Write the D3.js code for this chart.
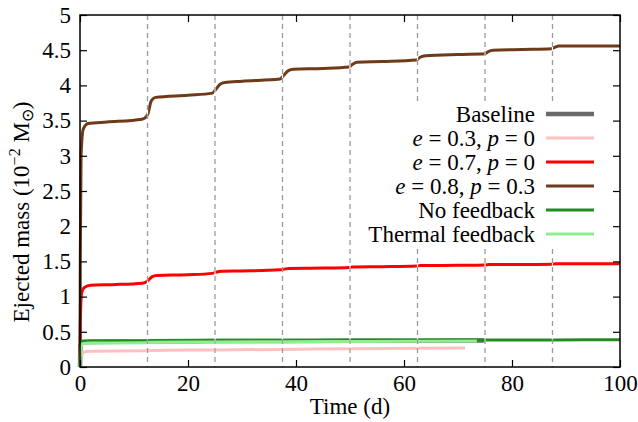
<!DOCTYPE html>
<html><head><meta charset="utf-8">
<script src="https://cdn.jsdelivr.net/npm/d3@7"></script>
<style>body{margin:0;background:#fff}</style>
</head><body><svg id="c" width="638" height="422"></svg>
<script>
// ---- data ----
const xTicks = [0, 20, 40, 60, 80, 100];
const yTicks = [0, 0.5, 1, 1.5, 2, 2.5, 3, 3.5, 4, 4.5, 5];
const yTickLabels = ["0", "0.5", "1", "1.5", "2", "2.5", "3", "3.5", "4", "4.5", "5"];
const restartTimes = [12.5, 25, 37.5, 50, 62.5, 75, 87.5];

const baselineT = [0, 0.1, 0.4, 2, 12.3, 12.8, 25, 37.5, 50, 62.5, 75];
const baselineV = [0, 0.3, 0.35, 0.355, 0.36, 0.365, 0.368, 0.37, 0.372, 0.374, 0.376];

const e03T = [0.3, 0.6, 2, 12.3, 12.8, 25, 37.5, 50, 62.5, 71.3];
const e03V = [0.15, 0.21, 0.225, 0.232, 0.236, 0.242, 0.25, 0.26, 0.265, 0.27];

const e07T = [0, 0.05, 0.3, 0.8, 2, 6, 11.5, 12.5, 13.3, 14.2, 20, 24.5, 25.3, 26.2, 30, 37, 37.8, 38.6, 45, 49.8, 50.6, 56, 62.3, 63.1, 70, 75, 75.8, 82, 87.4, 88.1, 95, 100];
const e07V = [0, 0.6, 1.05, 1.13, 1.16, 1.17, 1.19, 1.22, 1.28, 1.3, 1.31, 1.33, 1.35, 1.36, 1.365, 1.38, 1.39, 1.4, 1.405, 1.415, 1.42, 1.425, 1.435, 1.44, 1.445, 1.45, 1.455, 1.455, 1.46, 1.465, 1.465, 1.465];

const e08T = [0, 0.05, 0.2, 0.6, 1.5, 5, 11.5, 12.5, 13.2, 14, 20, 24.5, 25.2, 26, 26.8, 30, 37, 37.8, 38.6, 39.5, 45, 49.8, 50.5, 51.3, 56, 62.3, 63, 64, 70, 75, 75.6, 76.5, 82, 87.3, 87.9, 88.7, 95, 100];
const e08V = [0, 1.5, 3.0, 3.38, 3.46, 3.48, 3.52, 3.58, 3.78, 3.83, 3.86, 3.89, 3.95, 4.02, 4.04, 4.06, 4.09, 4.15, 4.21, 4.23, 4.24, 4.26, 4.3, 4.33, 4.34, 4.36, 4.4, 4.42, 4.44, 4.45, 4.48, 4.5, 4.51, 4.52, 4.54, 4.56, 4.56, 4.56];

const noFbT = [0, 0.1, 0.4, 2, 12.3, 12.8, 25, 37.5, 50, 62.5, 75, 87.5, 100];
const noFbV = [0, 0.3, 0.37, 0.372, 0.374, 0.377, 0.379, 0.38, 0.382, 0.383, 0.384, 0.385, 0.386];

const thermT = [0, 0.1, 0.5, 2, 12.3, 12.8, 25, 37.5, 50, 62.5, 73.5];
const thermV = [0, 0.25, 0.33, 0.34, 0.345, 0.35, 0.356, 0.36, 0.363, 0.366, 0.368];

const seriesNames = ["Baseline", "e03", "e07", "e08", "No feedback", "Thermal feedback"];
const seriesColors = ["#6a6a6a", "#ffc0c0", "#ff0000", "#6e3a1a", "#228b22", "#90ee90"];
const seriesWidths = [4.5, 3, 3, 3, 3, 3];
const seriesT = [baselineT, e03T, e07T, e08T, noFbT, thermT];
const seriesV = [baselineV, e03V, e07V, e08V, noFbV, thermV];
// legend labels: [text, italic]
const legendParts = [
  [["Baseline", false]],
  [["e", true], [" = 0.3, ", false], ["p", true], [" = 0", false]],
  [["e", true], [" = 0.7, ", false], ["p", true], [" = 0", false]],
  [["e", true], [" = 0.8, ", false], ["p", true], [" = 0.3", false]],
  [["No feedback", false]],
  [["Thermal feedback", false]]
];

// ---- chart ----
const svg = d3.select("#c");
const FONT = "Liberation Serif";
const L = 80, R = 620, T = 15, B = 367;
const x = d3.scaleLinear().domain([0, 100]).range([L, R]);
const y = d3.scaleLinear().domain([0, 5]).range([B, T]);
const FS = 23;

const line = d3.line().x(d => x(d[0])).y(d => y(d[1])).curve(d3.curveMonotoneX);

const gData = svg.append("g");
seriesT.forEach((ts, i) => {
  const pts = ts.map((t, j) => [t, seriesV[i][j]]);
  gData.append("path").attr("d", line(pts)).attr("fill", "none")
    .attr("stroke", seriesColors[i]).attr("stroke-width", seriesWidths[i])
    .attr("stroke-linejoin", "round").attr("stroke-linecap", "butt");
});

// restart markers: small white break then dashed line
restartTimes.forEach(t => {
  svg.append("line").attr("x1", x(t)).attr("x2", x(t)).attr("y1", T).attr("y2", B)
    .attr("stroke", "#fff").attr("stroke-width", 1.2);
  svg.append("line").attr("x1", x(t)).attr("x2", x(t)).attr("y1", T).attr("y2", B)
    .attr("stroke", "#9a9a9a").attr("stroke-width", 1.3).attr("stroke-dasharray", "5,4");
});

// legend
const legX = 535, legY0 = 114, legDy = 24;
svg.append("rect").attr("x", 365).attr("y", 101).attr("width", 240).attr("height", 145).attr("fill", "#fff");
legendParts.forEach((parts, i) => {
  const yy = legY0 + i * legDy;
  const tx = svg.append("text").attr("x", legX).attr("y", yy + 7.5).attr("text-anchor", "end")
    .attr("font-family", FONT).attr("font-size", FS).attr("fill", "#000");
  parts.forEach(p => tx.append("tspan").text(p[0]).attr("font-style", p[1] ? "italic" : "normal"));
  svg.append("line").attr("x1", 546).attr("x2", 594).attr("y1", yy).attr("y2", yy)
    .attr("stroke", seriesColors[i]).attr("stroke-width", seriesWidths[i]);
});

// axes: bottom, left with ticks inward, mirror on top/right
const tickLen = 7;
const gx = svg.append("g").attr("transform", `translate(0,${B})`)
  .call(d3.axisBottom(x).tickValues(xTicks).tickSize(-tickLen).tickPadding(8).tickFormat(d3.format("d")));
const gxt = svg.append("g").attr("transform", `translate(0,${T})`)
  .call(d3.axisTop(x).tickValues(xTicks).tickSize(-tickLen).tickFormat(""));
const gy = svg.append("g").attr("transform", `translate(${L},0)`)
  .call(d3.axisLeft(y).tickValues(yTicks).tickSize(-tickLen).tickPadding(9).tickFormat((d, i) => yTickLabels[i]));
const gyr = svg.append("g").attr("transform", `translate(${R},0)`)
  .call(d3.axisRight(y).tickValues(yTicks).tickSize(-tickLen).tickFormat(""));
[gx, gxt, gy, gyr].forEach(g => {
  g.attr("font-family", FONT).attr("font-size", FS);
  g.select(".domain").remove();
  g.selectAll(".tick line").attr("stroke", "#000").attr("stroke-width", 1.2);
  g.selectAll("text").attr("font-family", FONT).attr("font-size", FS).attr("fill", "#000");
});
svg.append("rect").attr("x", L).attr("y", T).attr("width", R - L).attr("height", B - T)
  .attr("fill", "none").attr("stroke", "#000").attr("stroke-width", 1.5);

// axis titles
svg.append("text").attr("x", (L + R) / 2).attr("y", 414).attr("text-anchor", "middle")
  .attr("font-family", FONT).attr("font-size", FS).attr("fill", "#000").text("Time (d)");
const yl = svg.append("text").attr("transform", "translate(29,212) rotate(-90)")
  .attr("text-anchor", "middle").attr("font-family", FONT).attr("font-size", FS).attr("fill", "#000");
yl.append("tspan").text("Ejected mass (10");
yl.append("tspan").text("−2").attr("font-size", 16).attr("dy", -9);
yl.append("tspan").text(" M").attr("dy", 9);
yl.append("tspan").text("⊙").attr("font-size", 16).attr("dy", 4);
yl.append("tspan").text(")").attr("dy", -4);
</script></body></html>
